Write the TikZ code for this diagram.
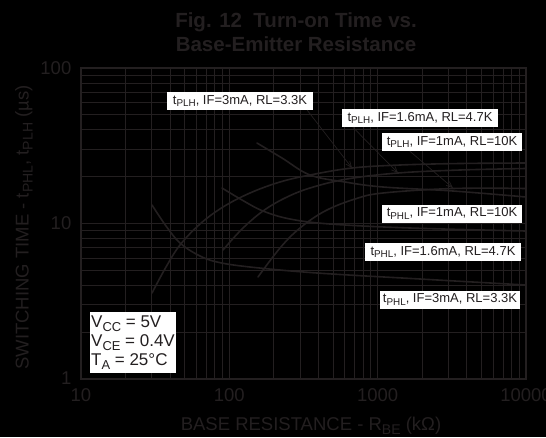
\documentclass[tikz,border=0pt]{standalone}
\usepackage{fontspec}
\setmainfont{Liberation Sans}
\usepackage{graphicx}
\usetikzlibrary{arrows.meta,calc}
\definecolor{ink}{HTML}{231F20}
\newcommand\dsub[1]{\raisebox{-0.22em}{\scalebox{0.76}{#1}}}
\begin{document}
\begin{tikzpicture}[x=1pt,y=-1pt,
  gridl/.style={draw=ink,line width=1pt},
  plotframe/.style={draw=ink,line width=2pt},
  datacurve/.style={draw=ink,line width=1.6pt,line cap=round},
  lab/.style={fill=white,text=ink,inner sep=0pt,minimum height=18pt,font=\fontsize{13}{15}\selectfont},
  pointer/.style={draw=ink,line width=0.7pt,-{Straight Barb[length=6pt,width=5pt]}},
  axt/.style={text=ink,inner sep=0pt,font=\fontsize{18.5}{20}\selectfont},
  titlet/.style={text=ink,inner sep=0pt,font=\fontsize{20.5}{24}\selectfont\bfseries}]
\useasboundingbox (0,0) rectangle (546,437);
\fill[black] (0,0) rectangle (546,437);
% grid
\foreach \d in {0,1,2}{\foreach \k in {1,...,9}{
  \draw[gridl] ({81+148.333*(\d+log10(\k))},68) -- ({81+148.333*(\d+log10(\k))},379);}}
\foreach \d in {0,1}{\foreach \k in {1,...,9}{
  \draw[gridl] (81,{379-155.5*(\d+log10(\k))}) -- (526,{379-155.5*(\d+log10(\k))});}}
\draw[plotframe] (81,68) rectangle (526,379);
% title
\node[titlet,anchor=base] (t1) at (296,27.3) {Fig. 12\ \ Turn-on Time vs.};
\node[titlet,anchor=base] (t2) at (296,51.7) {Base-Emitter Resistance};
% tick labels
\node[axt,anchor=east] (y100) at (71.5,68.5) {100};
\node[axt,anchor=east] (y10) at (71.5,223.5) {10};
\node[axt,anchor=east] (y1) at (71.5,378.5) {1};
\node[axt] (x10) at (81,395) {10};
\node[axt] (x100) at (229.3,395) {100};
\node[axt] (x1000) at (377.7,395) {1000};
\node[axt] (x10000) at (526,395) {10000};
\node[axt,anchor=base] (xl) at (311,430) {BASE RESISTANCE - R\dsub{BE} (kΩ)};
\node[axt,anchor=base,rotate=90] (yl) at (28.5,227.5) {SWITCHING TIME - t\dsub{PHL}, t\dsub{PLH} (µs)};
% curves
\draw[datacurve] plot[smooth,tension=0.6] coordinates {(152,205) (166,226) (180,243) (198,255) (217,262) (250,267) (317,273) (420,279) (526,285)};
\draw[datacurve] plot[smooth,tension=0.6] coordinates {(152,293) (166,267) (180,245) (200,224) (223,207) (250,193) (280,182) (310,175) (352,168) (400,165) (460,163.5) (526,163)};
\draw[datacurve] plot[smooth,tension=0.6] coordinates {(222,188) (242,200) (263,211) (290,219) (330,224) (410,228) (526,231)};
\draw[datacurve] plot[smooth,tension=0.6] coordinates {(223,250) (242,229) (263,211) (285,198) (310,188) (347,179) (398,173) (460,170) (526,168.5)};
\draw[datacurve] plot[smooth,tension=0.6] coordinates {(257,143) (282,158) (310,175) (345,182) (383,187) (453,191) (526,197)};
\draw[datacurve] plot[smooth,tension=0.6] coordinates {(258,277) (280,248) (300,228) (325,211) (355,199) (383,193) (453,188.5) (526,188.5)};
% labels
\node[lab,minimum width=146pt] (b1) at (240,101) {t\dsub{PLH}, IF=3mA, RL=3.3K};
\node[lab,minimum width=156pt] (b2) at (420,118) {t\dsub{PLH}, IF=1.6mA, RL=4.7K};
\node[lab,minimum width=140pt] (b3) at (452,142) {t\dsub{PLH}, IF=1mA, RL=10K};
\node[lab,minimum width=140pt] (b4) at (452,213.5) {t\dsub{PHL}, IF=1mA, RL=10K};
\node[lab,minimum width=156pt] (b5) at (443,252) {t\dsub{PHL}, IF=1.6mA, RL=4.7K};
\node[lab,minimum width=140pt] (b6) at (450,299.5) {t\dsub{PHL}, IF=3mA, RL=3.3K};
\node[fill=white,text=ink,inner sep=0pt,minimum width=86pt,minimum height=61pt,align=left,font=\fontsize{17}{19}\selectfont] (cond) at (133,342.5)
  {V\dsub{CC} = 5V\\V\dsub{CE} = 0.4V\\T\dsub{A} = 25°C};
% pointers
\coordinate (a1) at (352,168);
\coordinate (a2) at (398,173);
\coordinate (a3) at (453,188);
\draw[pointer] ($(b1.south east)+(-6,0)$) -- (a1);
\draw[pointer] ($(b2.south west)+(11,0)$) -- (a2);
\draw[pointer] ($(b3.south west)+(28,0)$) -- (a3);
\end{tikzpicture}
\end{document}
